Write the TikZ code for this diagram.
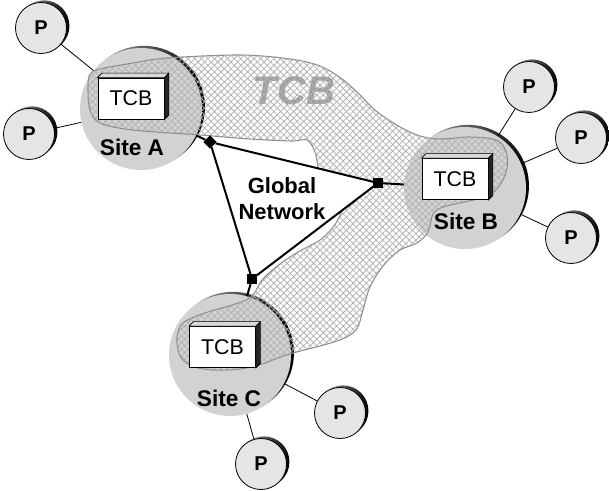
\documentclass[tikz,border=0pt]{standalone}
\usepackage{fontspec}
\setmainfont{Liberation Sans}
\usetikzlibrary{shapes.geometric,patterns.meta,shadows}
\begin{document}
\begin{tikzpicture}[x=0.75pt,y=-0.75pt,
  rim/.style={general shadow={shadow xshift=2.2pt, shadow yshift=1.6pt, left color=gray!55, right color=black}},
  site/.style={circle, fill=gray!35, minimum size=91.5pt, inner sep=0pt, rim},
  proc/.style={circle, draw=black, line width=0.6pt, fill=gray!20, minimum size=38.25pt,
    inner sep=0pt, font=\fontsize{15}{17}\selectfont\bfseries, rim},
  tcbbox/.style={draw=black, line width=0.6pt, fill=white, minimum width=49.5pt,
    minimum height=30.75pt, inner sep=0pt, font=\fontsize{16}{18}\selectfont},
  sitelabel/.style={font=\fontsize{17}{19}\selectfont\bfseries, anchor=base},
  link/.style={line width=0.6pt},
  net/.style={line width=1.5pt},
  blob/.style={pattern={Lines[angle=45,distance=3.5pt,line width=0.6pt]},
    pattern color=black!30,
    postaction={pattern={Lines[angle=-45,distance=3.5pt,line width=0.6pt]},
      pattern color=black!30},
    draw=black!45, line width=0.8pt},
]
\useasboundingbox (0,0) rectangle (609,491);

% sites
\node[site] (A) at (141,109) {};
\node[site] (B) at (465,188) {};
\node[site] (C) at (230,355) {};

% large label of the trusted computing base
\node[font=\fontsize{30}{32}\selectfont\bfseries\itshape, text=gray!75, anchor=base]
  (tcbbig) at (294,105) {TCB};

% hatched TCB region spanning the three sites
\path[blob] (318,168) -- plot[smooth, tension=0.55] coordinates {
  (318,168) (315,152) (307,140) (292,141) (250,139) (200,135)
  (133,130) (100,123) (90,110) (88,88) (90,74) (100,69) (133,63) (167,58)
  (240,55) (290,59) (320,66) (342,79) (360,95) (376,111) (400,127) (420,136)
  (440,139) (470,137) (496,140) (506,151) (507,168) (500,185) (487,196)
  (460,203) (443,207) (433,214) (428,232) (417,243) (400,250) (383,266)
  (370,287) (363,310) (356,330) (337,341) (293,353) (278,358) (262,364)
  (240,369) (213,370) (192,366) (180,356) (177,338) (183,323) (205,313)
  (232,305) (251,297) (263,279) (280,264) (298,252) (320,240) (334,226) (342,211)
} -- (378,183) -- cycle;

% peripherals
\node[proc] (pa1) at (41,28) {P};
\node[proc] (pa2) at (29,134) {P};
\node[proc] (pb1) at (529,87) {P};
\node[proc] (pb2) at (581,138) {P};
\node[proc] (pb3) at (571,238) {P};
\node[proc] (pc1) at (340,413) {P};
\node[proc] (pc2) at (261,464) {P};

\draw[link] (pa1) -- (A);
\draw[link] (pa2) -- (A);
\draw[link] (pb1) -- (B);
\draw[link] (pb2) -- (B);
\draw[link] (pb3) -- (B);
\draw[link] (pc1) -- (C);
\draw[link] (pc2) -- (C);

% TCB boxes
\node[tcbbox] (ta) at (131,98.5) {TCB};
\node[tcbbox] (tb) at (455,179) {TCB};
\node[tcbbox] (tc) at (222.5,347) {TCB};
\foreach \b in {ta,tb,tc}{
  \filldraw[fill=gray!30, draw=black, line width=0.5pt]
    (\b.north west) -- ++(4.5,-4.5) -- ([shift={(4.5,-4.5)}]\b.north east)
    -- (\b.north east) -- cycle;
  \filldraw[fill=black!85, draw=black, line width=0.5pt]
    (\b.north east) -- ++(4.5,-4.5) -- ([shift={(4.5,-4.5)}]\b.south east)
    -- (\b.south east) -- cycle;
}

% site labels
\node[sitelabel] (la) at (132,156) {Site A};
\node[sitelabel] (lb) at (466,230) {Site B};
\node[sitelabel] (lc) at (229,406) {Site C};

% global network
\node[diamond, fill=black, minimum size=10pt, inner sep=0pt] (d) at (210,142) {};
\node[rectangle, fill=black, minimum size=7pt, inner sep=0pt] (sb) at (378,183) {};
\node[rectangle, fill=black, minimum size=7pt, inner sep=0pt] (sc) at (252,279) {};
\draw[net] (d) -- (sb);
\draw[net] (sb) -- (sc);
\draw[net] (sc) -- (d);
\draw[net] (d) -- (A);
\draw[net] (sb) -- (B);
\draw[net] (sc) -- (C);

\node[align=center, font=\fontsize{16.5}{19.5}\selectfont\bfseries] (gn) at (282,199)
  {Global\\Network};
\end{tikzpicture}
\end{document}
